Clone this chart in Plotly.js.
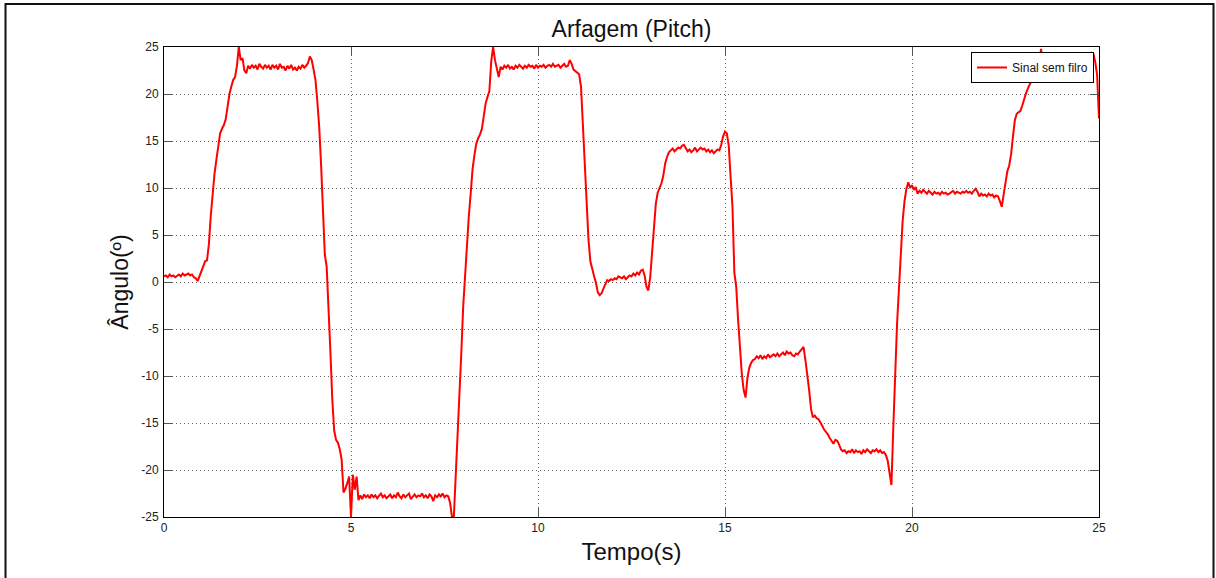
<!DOCTYPE html>
<html>
<head>
<meta charset="utf-8">
<script src="https://cdn.plot.ly/plotly-3.0.1.min.js"></script>
<style>html,body{margin:0;padding:0;background:#fff;}#chart{width:1216px;height:578px;}</style>
</head>
<body>
<div id="chart"></div>
<script>
// Sampling of the signal (seconds)
const T_START = 0;
const T_STEP = 0.05;

// Pitch angle (degrees), one row per second, 20 samples per row
const pitch = [
  0.6,0.7,0.5,0.8,0.6,0.7,0.5,0.7,0.8,0.6,0.9,0.7,0.8,0.9,0.7,0.8,0.5,0.4,0.1,0.6,
  1.1,1.7,2.2,2.3,4.0,7.0,9.5,11.5,13.0,14.5,15.8,16.3,16.7,17.3,18.8,20.0,20.8,21.5,21.8,23.0,
  25.0,23.6,23.8,22.5,22.2,23.0,22.7,23.1,22.8,23.0,22.6,23.2,22.9,22.7,23.1,22.8,23.0,22.6,23.1,22.8,
  23.0,22.6,23.2,22.8,22.9,22.5,23.0,22.7,23.1,22.6,22.8,22.5,22.9,22.7,23.1,22.8,23.0,23.3,24.0,23.6,
  22.6,21.5,19.2,16.5,12.5,8.0,2.9,1.6,-2.5,-7.5,-12.5,-15.8,-16.8,-17.1,-17.8,-18.9,-22.4,-22.0,-21.4,-20.7,
  -25.0,-20.5,-22.1,-20.7,-23.2,-22.7,-23.1,-22.6,-22.9,-22.7,-23.0,-22.6,-22.9,-22.7,-23.0,-22.8,-22.5,-22.9,-22.7,-23.0,
  -22.8,-22.6,-23.0,-22.7,-22.9,-22.4,-22.8,-23.0,-22.6,-22.9,-22.7,-22.5,-23.1,-22.8,-22.6,-22.9,-22.7,-22.8,-22.5,-22.9,
  -22.7,-23.0,-22.6,-22.8,-23.3,-22.7,-22.9,-22.6,-22.8,-22.5,-22.9,-22.7,-22.8,-23.5,-25.0,-25.0,-21.0,-17.0,-12.5,-7.5,
  -2.6,0.9,4.8,7.0,9.4,12.0,13.5,14.7,15.3,15.7,16.3,17.5,19.0,19.7,20.3,23.5,25.0,23.6,22.7,21.8,
  22.9,22.6,23.0,22.8,23.1,22.7,22.9,22.6,23.0,22.8,23.1,22.9,22.7,23.0,22.8,23.1,22.9,23.0,22.7,23.1,
  22.8,23.0,22.9,23.1,22.8,23.0,23.1,22.9,23.2,22.9,23.0,23.1,22.8,23.0,23.2,22.9,23.0,23.6,23.2,22.6,
  22.4,22.3,22.1,20.8,16.5,12.5,8.0,4.5,2.2,1.2,0.6,-0.1,-1.1,-1.4,-1.2,-0.7,-0.2,0.2,0.1,0.3,
  0.2,0.4,0.3,0.6,0.5,0.4,0.6,0.3,0.5,0.7,0.6,0.9,0.7,1.0,0.8,1.2,1.3,0.7,-0.5,-0.9,
  0.5,3.0,6.0,8.3,9.5,10.0,10.5,11.3,12.6,13.3,13.8,14.0,14.2,13.9,14.1,14.3,14.2,14.5,14.6,14.2,
  13.9,14.1,13.8,14.0,14.3,13.9,14.1,14.3,14.1,14.2,13.9,14.1,13.8,14.0,13.7,13.9,14.1,14.0,14.6,15.5,
  16.0,15.8,14.5,11.2,8.0,1.0,-0.5,-4.0,-7.6,-9.8,-11.5,-12.3,-10.2,-9.1,-8.6,-8.3,-8.2,-7.9,-8.1,-7.8,
  -8.2,-7.9,-8.1,-7.7,-8.0,-7.8,-7.7,-7.9,-7.6,-7.9,-7.7,-7.5,-7.8,-7.4,-7.6,-7.5,-7.8,-7.9,-7.6,-7.7,
  -7.4,-7.1,-6.9,-8.3,-9.8,-11.5,-13.5,-14.4,-14.2,-14.5,-14.6,-14.9,-15.3,-15.7,-15.9,-16.2,-16.6,-16.9,-17.2,-16.8,
  -16.9,-17.3,-17.8,-18.0,-17.9,-18.2,-18.0,-18.1,-17.8,-18.2,-17.9,-18.1,-18.0,-18.3,-17.9,-18.1,-17.8,-18.0,-18.2,-17.9,
  -18.0,-17.8,-18.1,-17.9,-18.2,-18.1,-18.4,-19.0,-20.3,-21.6,-15.5,-9.8,-4.5,-0.8,3.4,6.5,8.6,9.9,10.6,10.0,
  10.3,9.8,10.1,9.4,9.7,9.5,9.8,9.6,9.4,9.7,9.5,9.3,9.6,9.4,9.5,9.3,9.6,9.4,9.5,9.3,
  9.4,9.6,9.7,9.4,9.6,9.5,9.4,9.6,9.5,9.7,9.5,9.6,9.4,9.7,9.9,9.6,9.1,9.4,9.2,9.3,
  9.1,9.4,9.2,9.3,9.0,9.2,9.1,8.6,8.0,9.3,10.8,11.8,12.4,13.6,15.5,17.2,17.9,18.1,18.2,18.8,
  19.5,20.1,20.6,21.1,21.5,21.9,22.1,22.3,22.7,24.8,23.5,23.8,23.6,23.9,23.7,24.0,23.8,24.1,23.9,24.0,
  23.8,24.0,23.9,24.1,23.8,24.0,24.2,23.9,24.1,24.0,24.2,23.9,24.1,24.3,24.0,24.2,24.4,24.3,23.4,22.0,
  17.4
];

const X_TICKS = [0, 5, 10, 15, 20, 25];
const Y_TICKS = [-25, -20, -15, -10, -5, 0, 5, 10, 15, 20, 25];

const TITLE = 'Arfagem (Pitch)';
const X_TITLE = 'Tempo(s)';
const Y_TITLE = 'Ângulo(º)';
const SERIES_NAME = 'Sinal sem filro';

const FONT = 'Liberation Sans, Arial, Helvetica, sans-serif';

const trace = {
  type: 'scatter',
  mode: 'lines',
  name: SERIES_NAME,
  x0: T_START,
  dx: T_STEP,
  y: pitch,
  line: {color: '#ff0000', width: 2},
  showlegend: true
};

const axisCommon = {
  showline: true,
  linecolor: '#000',
  linewidth: 1,
  mirror: 'ticks',
  ticks: 'inside',
  ticklen: 9,
  tickwidth: 1,
  tickcolor: '#555',
  showgrid: true,
  gridcolor: '#666',
  gridwidth: 1,
  griddash: '1px,3px',
  zeroline: false,
  tickfont: {family: FONT, size: 12, color: '#222'}
};

const layout = {
  width: 1216,
  height: 578,
  paper_bgcolor: '#fff',
  plot_bgcolor: '#fff',
  margin: {l: 164, r: 117, t: 47, b: 61, pad: 0},
  title: {
    text: TITLE,
    font: {family: FONT, size: 23, color: '#111'},
    x: 0.5, xref: 'paper', xanchor: 'center',
    y: 1 - 29 / 578, yref: 'container', yanchor: 'middle'
  },
  xaxis: Object.assign({}, axisCommon, {
    range: [0, 25],
    tickvals: X_TICKS,
    ticktext: X_TICKS.map(String),
    title: {text: X_TITLE, font: {family: FONT, size: 24, color: '#111'}, standoff: 8}
  }),
  yaxis: Object.assign({}, axisCommon, {
    range: [-25, 25],
    tickvals: Y_TICKS,
    ticktext: Y_TICKS.map(String),
    ticklabelstandoff: 2,
    title: {text: Y_TITLE, font: {family: FONT, size: 23, color: '#111'}, standoff: 6}
  }),
  showlegend: true,
  legend: {
    x: 0.9947, xanchor: 'right',
    y: 0.9894, yanchor: 'top',
    bgcolor: '#fff',
    bordercolor: '#000',
    borderwidth: 1,
    font: {family: FONT, size: 12, color: '#111'}
  },
  shapes: [{
    type: 'rect', xref: 'paper', yref: 'paper',
    x0: (5.5 - 164) / 935, x1: (1213.5 - 164) / 935,
    y0: (517 - 582) / 470, y1: (517 - 4) / 470,
    line: {color: '#111', width: 2},
    fillcolor: 'rgba(0,0,0,0)',
    layer: 'above'
  }]
};

Plotly.newPlot('chart', [trace], layout, {staticPlot: true, displayModeBar: false});
</script>
</body>
</html>
